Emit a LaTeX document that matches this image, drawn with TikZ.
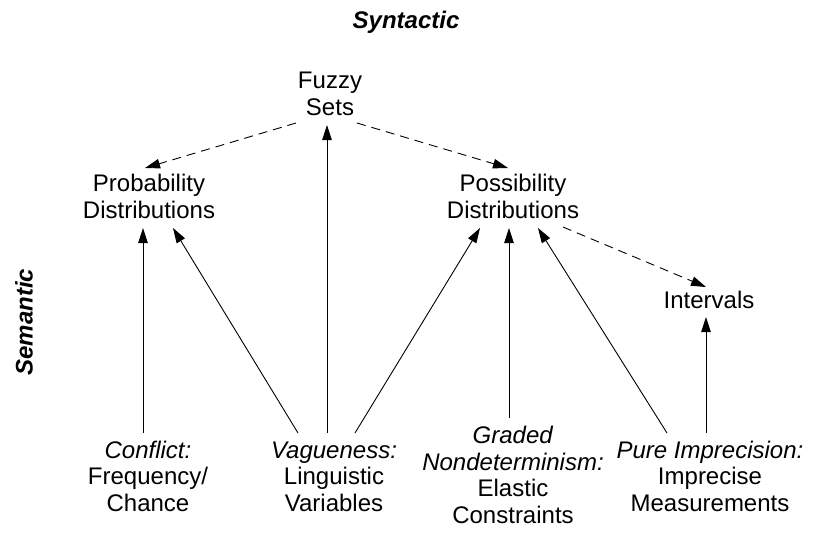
\documentclass[tikz,border=0pt]{standalone}
\usepackage{fontspec}
\setmainfont{Liberation Sans}
\usetikzlibrary{arrows.meta,calc}
\begin{document}
\begin{tikzpicture}[x=1pt,y=-1pt,
  lbl/.style={inner sep=0pt, align=center, anchor=base, font=\fontsize{24pt}{26.5pt}\selectfont},
  ttl/.style={inner sep=0pt, font=\fontsize{24pt}{26.5pt}\selectfont\bfseries\itshape},
  arr/.style={line width=0.9pt, -{Triangle[length=15pt,width=9.5pt]}},
  darr/.style={arr, dash pattern=on 9pt off 6pt}]
\useasboundingbox (0,0) rectangle (817,533);
\node[ttl, anchor=base] (syn) at (406,28) {Syntactic};
\node[ttl, rotate=90, anchor=center] (sem) at (24,322) {Semantic};
% anchor=base of a multi-line node is the baseline of its last line
\node[lbl] (fuzzy) at (330,115) {Fuzzy\\Sets};
\node[lbl] (prob) at (149,218) {Probability\\Distributions};
\node[lbl] (poss) at (513,218) {Possibility\\Distributions};
\node[lbl] (intv) at (709,308) {Intervals};
\node[lbl] (conf) at (148,511) {\textit{Conflict:}\\Frequency/\\Chance};
\node[lbl] (vag) at (334,511) {\textit{Vagueness:}\\Linguistic\\Variables};
\node[lbl] (grad) at (513,523) {\textit{Graded}\\\textit{Nondeterminism:}\\Elastic\\Constraints};
\node[lbl] (pure) at (710,511) {\textit{Pure Imprecision:}\\Imprecise\\Measurements};
\draw[darr] ($(fuzzy.base)+(-34,8)$) -- ($(prob.base)+(-4,-50)$);
\draw[darr] ($(fuzzy.base)+(27,8)$) -- ($(poss.base)+(-5,-50)$);
\draw[darr] ($(poss.base)+(50,9)$) -- ($(intv.base)+(-3,-21)$);
\draw[arr] ($(vag.base)+(-7,-78)$) -- ($(fuzzy.base)+(-3,10)$);
\draw[arr] ($(conf.base)+(-5,-78)$) -- ($(prob.base)+(-6,10)$);
\draw[arr] ($(vag.base)+(-36,-78)$) -- ($(prob.base)+(24,10)$);
\draw[arr] ($(vag.base)+(21,-78)$) -- ($(poss.base)+(-33,10)$);
\draw[arr] ($(grad.base)+(-4,-105)$) -- ($(poss.base)+(-4,10)$);
\draw[arr] ($(pure.base)+(-43,-78)$) -- ($(poss.base)+(25,10)$);
\draw[arr] ($(pure.base)+(-4,-78)$) -- ($(intv.base)+(-3,9)$);
\end{tikzpicture}
\end{document}
